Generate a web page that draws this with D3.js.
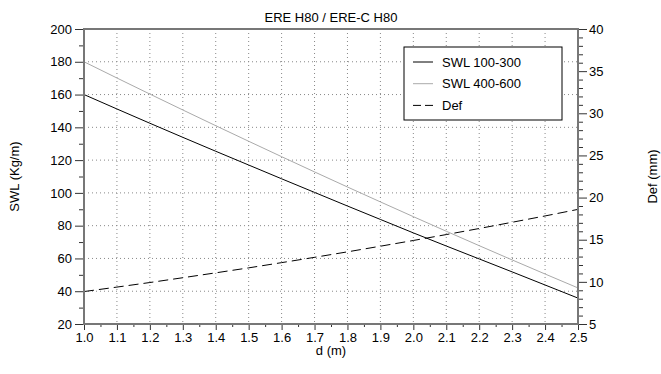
<!DOCTYPE html>
<html><head><meta charset="utf-8">
<script src="https://cdn.jsdelivr.net/npm/d3@7"></script>
<style>body{margin:0;background:#fff}svg text{font-family:"Liberation Sans",Arial,sans-serif}</style>
</head><body><svg id="c" width="661" height="374"></svg>
<script>
const spans = [1.0,1.1,1.2,1.3,1.4,1.5,1.6,1.7,1.8,1.9,2.0,2.1,2.2,2.3,2.4,2.5];
const swl100 = [160,151.2,142.5,133.9,125.4,117.0,108.6,100.3,92.0,83.8,75.6,67.6,59.7,51.8,43.8,35.8];
const swl400 = [180,170.1,160.3,150.6,141.0,131.5,122.1,112.8,103.6,94.5,85.5,76.6,67.8,59.1,50.5,42.0];
const def = [8.85,9.38,9.92,10.49,11.07,11.66,12.28,12.91,13.56,14.23,14.91,15.61,16.33,17.07,17.82,18.6];
const xTicks = [1.0,1.1,1.2,1.3,1.4,1.5,1.6,1.7,1.8,1.9,2.0,2.1,2.2,2.3,2.4,2.5];
const yLeftTicks = [20,40,60,80,100,120,140,160,180,200];
const yRightTicks = [5,10,15,20,25,30,35,40];
const title = "ERE H80 / ERE-C H80";
const legendNames = ["SWL 100-300","SWL 400-600","Def"];

const L=84,R=578,T=29,B=324;
const svg=d3.select("#c");
const x=d3.scaleLinear().domain([1,2.5]).range([L,R]);
const yl=d3.scaleLinear().domain([20,200]).range([B,T]);
const yr=d3.scaleLinear().domain([5,40]).range([B,T]);
const fs=13;

// grid
const g=svg.append("g");
xTicks.slice(1,-1).forEach(v=>g.append("line").attr("x1",x(v)).attr("x2",x(v)).attr("y1",T).attr("y2",B)
  .attr("stroke","#888").attr("stroke-width",1).attr("stroke-dasharray","1,3"));
yLeftTicks.slice(1,-1).forEach(v=>g.append("line").attr("x1",L).attr("x2",R).attr("y1",yl(v)).attr("y2",yl(v))
  .attr("stroke","#888").attr("stroke-width",1).attr("stroke-dasharray","1,3"));

// lines
const pts=(arr,ys)=>spans.map((d,i)=>[x(d),ys(arr[i])]);
const line=d3.line();
svg.append("path").attr("d",line(pts(swl400,yl))).attr("fill","none").attr("stroke","#aaa").attr("stroke-width",1);
svg.append("path").attr("d",line(pts(swl100,yl))).attr("fill","none").attr("stroke","#000").attr("stroke-width",1);
svg.append("path").attr("d",line(pts(def,yr))).attr("fill","none").attr("stroke","#000").attr("stroke-width",1).attr("stroke-dasharray","10,5");

// axes
const minorX=d3.range(1.05,2.5,0.1);
const ax=svg.append("g").attr("transform",`translate(0,${B})`)
  .call(d3.axisBottom(x).tickValues(xTicks).tickFormat(d3.format(".1f")).tickSize(6).tickPadding(3));
ax.append("g").call(d3.axisBottom(x).tickValues(minorX).tickFormat("").tickSize(3));
const ayl=svg.append("g").attr("transform",`translate(${L},0)`)
  .call(d3.axisLeft(yl).tickValues(yLeftTicks).tickSize(9).tickPadding(3));
ayl.append("g").call(d3.axisLeft(yl).tickValues(d3.range(30,200,20)).tickFormat("").tickSize(5));
const ayr=svg.append("g").attr("transform",`translate(${R},0)`)
  .call(d3.axisRight(yr).tickValues(yRightTicks).tickSize(9).tickPadding(2));
ayr.append("g").call(d3.axisRight(yr).tickValues(d3.range(6,40,1).filter(v=>v%5)).tickFormat("").tickSize(5));
svg.selectAll(".domain").remove();
svg.selectAll(".tick line").attr("stroke","#333");
svg.selectAll(".tick text").attr("font-size",fs).attr("fill","#000").attr("font-family","Liberation Sans, Arial, sans-serif");

// frame
svg.append("rect").attr("x",L).attr("y",T).attr("width",R-L).attr("height",B-T)
  .attr("fill","none").attr("stroke","#777").attr("stroke-width",2);

// titles
svg.append("text").attr("x",(L+R)/2).attr("y",22).attr("text-anchor","middle").attr("font-size",fs).text(title);
svg.append("text").attr("x",(L+R)/2).attr("y",355).attr("text-anchor","middle").attr("font-size",fs).text("d (m)");
svg.append("text").attr("transform",`translate(19,${(T+B)/2}) rotate(-90)`).attr("text-anchor","middle").attr("font-size",fs).text("SWL (Kg/m)");
svg.append("text").attr("transform",`translate(657,${(T+B)/2}) rotate(-90)`).attr("text-anchor","middle").attr("font-size",fs).text("Def (mm)");

// legend
const lg=svg.append("g");
lg.append("rect").attr("x",404).attr("y",47).attr("width",158).attr("height",73).attr("fill","#fff").attr("stroke","#000").attr("stroke-width",1);
const styles=[{c:"#000",d:null},{c:"#aaa",d:null},{c:"#000",d:"8,4"}];
legendNames.forEach((n,i)=>{
  const yy=62+i*21.7;
  lg.append("line").attr("x1",413).attr("x2",433).attr("y1",yy).attr("y2",yy).attr("stroke",styles[i].c).attr("stroke-width",1).attr("stroke-dasharray",styles[i].d);
  lg.append("text").attr("x",442).attr("y",yy+4.5).attr("font-size",fs).text(n);
});
</script></body></html>
